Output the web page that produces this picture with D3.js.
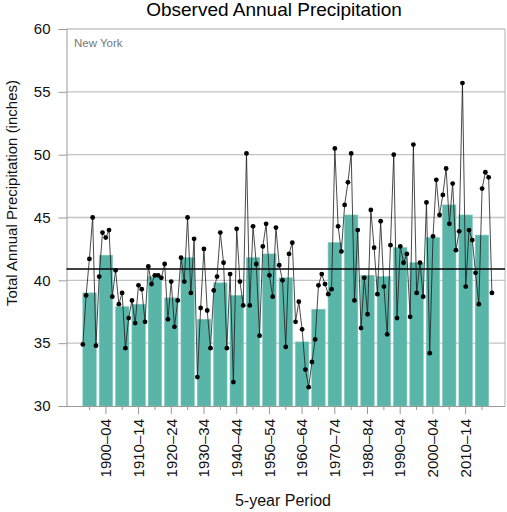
<!DOCTYPE html>
<html>
<head>
<meta charset="utf-8">
<script src="https://cdn.jsdelivr.net/npm/d3@7"></script>
<style>
  body { margin: 0; background: #fff; }
  text { font-family: "Liberation Sans", Arial, Helvetica, sans-serif; }
</style>
</head>
<body>
<div id="chart"></div>
<script>
// 5-year periods, bar = mean of the period
var periods = ['1895–99', '1900–04', '1905–09', '1910–14', '1915–19', '1920–24', '1925–29',
  '1930–34', '1935–39', '1940–44', '1945–49', '1950–54', '1955–59', '1960–64', '1965–69',
  '1970–74', '1975–79', '1980–84', '1985–89', '1990–94', '1995–99', '2000–04', '2005–09',
  '2010–14', '2015–19'];
var periodMeans = [39.0, 42.0, 37.9, 38.1, 40.3, 38.6, 41.8, 36.9, 39.8, 38.8, 41.8, 42.1, 40.2,
  35.1, 37.7, 43.0, 45.2, 40.4, 40.3, 42.6, 41.4, 43.4, 46.0, 45.2, 43.6];

// annual totals 1895-2020
var firstYear = 1895;
var annual = [
  34.9, 38.8, 41.7, 45.0, 34.8,
  40.3, 43.8, 43.4, 44.0, 38.7,
  40.8, 38.1, 39.0, 34.6, 37.0,
  38.4, 36.6, 39.6, 39.3, 36.7,
  41.1, 39.7, 40.4, 40.4, 40.2,
  41.3, 36.9, 39.9, 36.3, 38.4,
  41.8, 39.9, 45.0, 39.0, 43.3,
  32.3, 37.8, 42.5, 37.6, 34.6,
  39.2, 40.3, 43.8, 41.4, 34.6,
  40.5, 31.9, 44.1, 39.9, 38.0,
  50.1, 38.0, 44.3, 41.3, 35.6,
  42.7, 44.5, 40.4, 38.7, 44.2,
  41.2, 40.0, 34.7, 42.1, 43.0,
  36.7, 38.3, 36.1, 32.9, 31.5,
  33.5, 35.3, 39.6, 40.5, 39.7,
  38.9, 39.3, 50.5, 44.3, 42.3,
  46.0, 47.8, 50.1, 38.4, 44.0,
  36.2, 40.2, 37.3, 45.6, 42.6,
  38.9, 44.7, 39.5, 35.7, 42.8,
  50.0, 37.0, 42.7, 41.4, 42.1,
  37.1, 50.8, 39.0, 41.4, 38.7,
  46.2, 34.2, 43.5, 48.0, 45.2,
  46.8, 48.9, 44.5, 47.7, 42.4,
  43.9, 55.7, 39.5, 44.0, 43.2,
  40.6, 38.1, 47.3, 48.6, 48.2,
  39.0
];
var longTermMean = 40.9;
var yTicks = [30, 35, 40, 45, 50, 55, 60];

var W = 507, H = 512;
var margin = { top: 29, right: 2, bottom: 106, left: 66.5 };

var svg = d3.select('#chart').append('svg')
  .attr('width', W)
  .attr('height', H);

var x = d3.scaleBand()
  .domain(periods)
  .range([margin.left, W - margin.right])
  .paddingInner(0.18)
  .paddingOuter(1.0);

var xYear = d3.scaleLinear()
  .domain([firstYear, firstYear + periods.length * 5 - 1])
  .range([x(periods[0]), x(periods[periods.length - 1]) + x.bandwidth()]);

var y = d3.scaleLinear()
  .domain([30, 60])
  .range([H - margin.bottom, margin.top]);

// gridlines
svg.append('g')
  .selectAll('line')
  .data(yTicks.slice(1))
  .enter().append('line')
  .attr('x1', margin.left)
  .attr('x2', W - margin.right)
  .attr('y1', function(d) { return y(d); })
  .attr('y2', function(d) { return y(d); })
  .attr('stroke', '#c4c4c4')
  .attr('stroke-width', 1.3);

// right border
svg.append('line')
  .attr('x1', W - margin.right).attr('x2', W - margin.right)
  .attr('y1', y(60)).attr('y2', y(30))
  .attr('stroke', '#b0b0b0')
  .attr('stroke-width', 1);

// bars
svg.append('g')
  .selectAll('rect')
  .data(periodMeans)
  .enter().append('rect')
  .attr('x', function(d, i) { return x(periods[i]); })
  .attr('width', x.bandwidth())
  .attr('y', function(d) { return y(d); })
  .attr('height', function(d) { return y(30) - y(d); })
  .attr('fill', '#5ab5a9')
  .attr('stroke', '#7ec6bc')
  .attr('stroke-width', 0.6);

// y axis
var yAxis = d3.axisLeft(y)
  .tickValues(yTicks)
  .tickSize(8)
  .tickPadding(8);

var gy = svg.append('g')
  .attr('transform', 'translate(' + margin.left + ',0)')
  .call(yAxis);
gy.select('.domain').attr('stroke', '#999');
gy.selectAll('.tick line').attr('stroke', '#999');
gy.selectAll('.tick text')
  .attr('fill', '#111')
  .style('font-size', '15px')
  .style('font-family', '"Liberation Sans", Arial, sans-serif');

// x axis
var xAxis = d3.axisBottom(x)
  .tickSizeOuter(0)
  .tickSize(4)
  .tickFormat(function(d, i) { return i % 2 == 1 ? d : ''; });

var gx = svg.append('g')
  .attr('transform', 'translate(0,' + y(30) + ')')
  .call(xAxis);
gx.select('.domain')
  .attr('stroke', '#999')
  .attr('d', 'M' + margin.left + ',0.5H' + (W - margin.right));
gx.selectAll('.tick line')
  .attr('stroke', '#999')
  .attr('y2', function(d, i) { return i % 2 == 1 ? 8 : 4; });
gx.selectAll('.tick text')
  .attr('fill', '#111')
  .style('font-size', '15px')
  .style('font-family', '"Liberation Sans", Arial, sans-serif')
  .attr('text-anchor', 'end')
  .attr('transform', 'translate(0,13) rotate(-90)')
  .attr('x', 0)
  .attr('y', 0)
  .attr('dy', '0.35em');

// long-term mean
svg.append('line')
  .attr('x1', margin.left)
  .attr('x2', W - margin.right)
  .attr('y1', y(longTermMean))
  .attr('y2', y(longTermMean))
  .attr('stroke', '#000')
  .attr('stroke-width', 1.4);

// annual series
var line = d3.line()
  .x(function(d, i) { return xYear(firstYear + i); })
  .y(function(d) { return y(d); });

svg.append('path')
  .datum(annual)
  .attr('d', line)
  .attr('fill', 'none')
  .attr('stroke', '#1a1a1a')
  .attr('stroke-width', 0.8);

svg.append('g')
  .selectAll('circle')
  .data(annual)
  .enter().append('circle')
  .attr('cx', function(d, i) { return xYear(firstYear + i); })
  .attr('cy', function(d) { return y(d); })
  .attr('r', 2.4)
  .attr('fill', '#000');

// labels
svg.append('text')
  .attr('x', 274)
  .attr('y', 16)
  .attr('text-anchor', 'middle')
  .style('font-size', '19px')
  .attr('fill', '#000')
  .text('Observed Annual Precipitation');

svg.append('text')
  .attr('x', 74)
  .attr('y', 47)
  .style('font-size', '11.5px')
  .attr('fill', '#777')
  .text('New York');

svg.append('text')
  .attr('transform', 'translate(17,193) rotate(-90)')
  .attr('text-anchor', 'middle')
  .style('font-size', '15px')
  .attr('fill', '#111')
  .text('Total Annual Precipitation (inches)');

svg.append('text')
  .attr('x', 283)
  .attr('y', 506)
  .attr('text-anchor', 'middle')
  .style('font-size', '16px')
  .attr('fill', '#111')
  .text('5-year Period');
</script>
</body>
</html>
